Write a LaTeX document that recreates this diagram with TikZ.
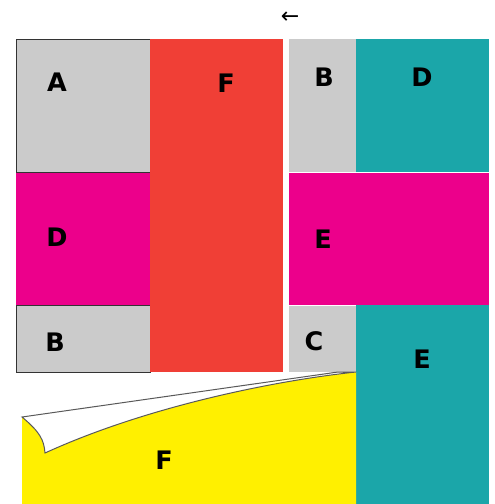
\documentclass[tikz,border=0pt]{standalone}
\usepackage{fontspec}
\setmainfont{DejaVu Sans}
\begin{document}
\begin{tikzpicture}[x=1pt,y=-1pt,
  lbl/.style={font=\fontsize{25.5}{25.5}\selectfont\bfseries, text=black, inner sep=0pt},
  edge/.style={draw=black!80, line width=1pt}]
\definecolor{cgray}{HTML}{CBCBCB}
\definecolor{cred}{HTML}{F03F36}
\definecolor{cmag}{HTML}{EC008B}
\definecolor{cteal}{HTML}{1BA6A9}
\definecolor{cyel}{HTML}{FFF000}
\useasboundingbox (0,0) rectangle (495,504);
% left column
\fill[cmag] (16,172) rectangle (150,305);
\filldraw[fill=cgray, edge] (16,39) rectangle (150,172);
\filldraw[fill=cgray, edge] (16,305) rectangle (150,372);
\fill[cred] (150,39) rectangle (283,372);
% right part
\fill[cgray] (289,39) rectangle (356,172);
\fill[cteal] (356,39) rectangle (489,172);
\fill[cmag] (289,173) rectangle (489,305);
\fill[cgray] (289,306) rectangle (356,372);
\fill[cteal] (356,305) rectangle (489,504);
% curled page
\fill[cyel] (22,504) -- (22,417) .. controls (40,432) and (44,440) .. (45,453)
  .. controls (150,405) and (280,380) .. (356,372) -- (356,504) -- cycle;
\filldraw[fill=white, draw=black!65, line width=1pt] (22,417) -- (338,372) -- (356,372)
  .. controls (280,380) and (150,405) .. (45,453)
  .. controls (44,440) and (40,432) .. (22,417) -- cycle;
% labels
\node[lbl] (lA) at (57,82) {A};
\node[lbl] (lF) at (226,83) {F};
\node[lbl] (lB1) at (324,77) {B};
\node[lbl] (lD1) at (422,77) {D};
\node[lbl] (lD2) at (57,237) {D};
\node[lbl] (lE1) at (323,239) {E};
\node[lbl] (lB2) at (55,342) {B};
\node[lbl] (lC) at (314,341) {C};
\node[lbl] (lE2) at (422,359) {E};
\node[lbl] (lF2) at (164,460) {F};
\node[inner sep=0pt, font=\fontsize{22}{22}\selectfont] (arr) at (290,18) {←};
\end{tikzpicture}
\end{document}
